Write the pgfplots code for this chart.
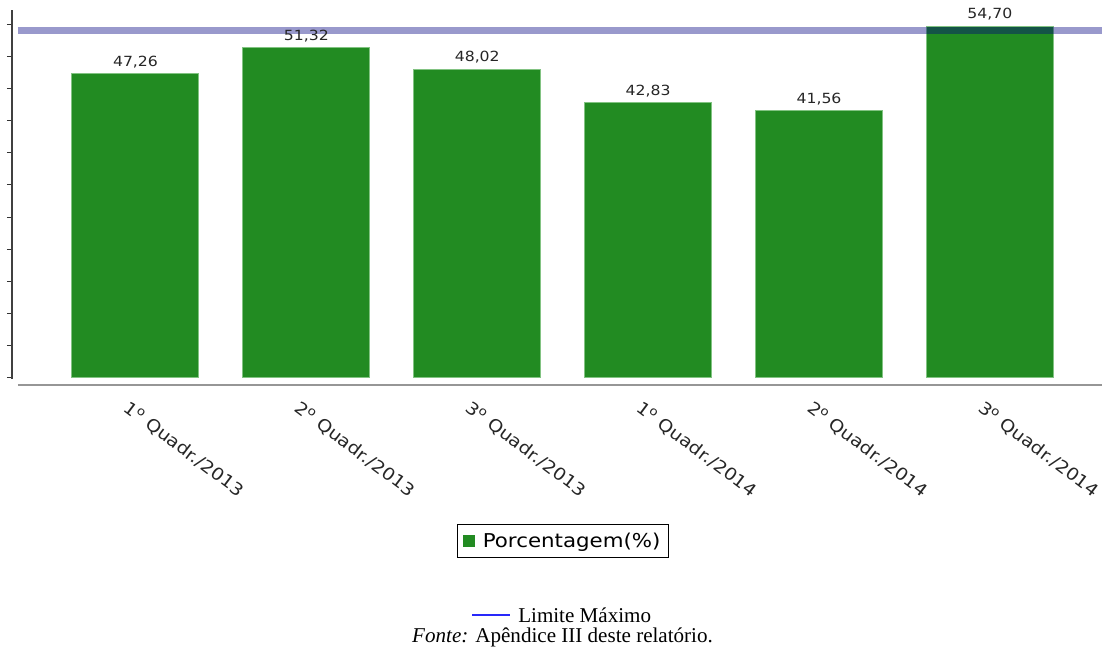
\documentclass[border=0pt]{standalone}
\usepackage{fontspec}
\setmainfont{Liberation Serif}
\newfontfamily\chartfont[FakeStretch=1.12]{DejaVu Sans}
\usepackage{pgfplots}
\pgfplotsset{compat=1.18}
\definecolor{barfill}{RGB}{34,139,34}
\definecolor{baredge}{RGB}{130,195,130}
\definecolor{limitc}{RGB}{0,0,128}
\definecolor{axisgray}{RGB}{150,150,150}
\definecolor{refblue}{RGB}{40,40,250}
\begin{document}
\begin{tikzpicture}
\useasboundingbox (-9pt,-201.75pt) rectangle (817.5pt,288.75pt);
\begin{axis}[
  at={(0pt,0pt)}, anchor=south west,
  scale only axis, width=817.5pt, height=281.25pt,
  xmin=-0.7226, xmax=5.656, ymin=-1.09, ymax=57.2,
  axis line style={draw=none},
  clip=false,
  xtick={-0.03,0.97,1.97,2.97,3.97,4.97},
  xticklabels={1\textsuperscript{o} Quadr./2013,2\textsuperscript{o} Quadr./2013,3\textsuperscript{o} Quadr./2013,1\textsuperscript{o} Quadr./2014,2\textsuperscript{o} Quadr./2014,3\textsuperscript{o} Quadr./2014},
  x tick style={draw=none},
  x tick label style={font=\chartfont\fontsize{12.8}{15}\selectfont, text=black!85, rotate=-37, anchor=north west, inner sep=0pt},
  xticklabel shift=7pt,
  ytick={0,5,...,55}, yticklabels={}, ytick pos=left, tick align=outside,
  major tick length=3.75pt,
  y tick style={line width=0.75pt, color=black!80},
  legend style={at={(0.5055,-0.416)}, anchor=center, draw=black, line width=0.75pt,
    font=\chartfont\fontsize{14.3}{16}\selectfont, inner xsep=4pt, inner ysep=4pt, column sep=4pt},
  legend cell align=left,
  legend image code/.code={\fill[barfill] (0pt,-4.1pt) rectangle (8.25pt,4.1pt);},
]
\addplot[ybar, bar width=0.743, fill=barfill, draw=baredge, line width=0.75pt,
  nodes near coords={\pgfmathprintnumber[fixed,fixed zerofill,precision=2,use comma,assume math mode=true]{\pgfplotspointmeta}},
  every node near coord/.append style={font=\chartfont\fontsize{10.5}{12}\selectfont, text=black!85, inner sep=0pt, yshift=3.8pt}]
  coordinates {(0,47.26) (1,51.32) (2,48.02) (3,42.83) (4,41.56) (5,54.70)};
\addlegendentry{Porcentagem(\%)}
\addplot[forget plot, draw=limitc, draw opacity=0.4, line width=5.25pt, mark=none]
  coordinates {(-0.6875,54) (5.656,54)};
\draw[color=black!75, line width=1.5pt] (axis cs:-0.7226,-0.1) -- (axis cs:-0.7226,57.2);
\draw[axisgray, line width=1.5pt] (axis cs:-0.6875,-1.09) -- (axis cs:5.656,-1.09);
\end{axis}
\draw[refblue, line width=1.5pt] (345pt,-172.5pt) -- (373.5pt,-172.5pt);
\node[anchor=base west, inner sep=0pt, font=\fontsize{15.8}{18}\selectfont] at (379.5pt,-177.75pt) {Limite Máximo};
\node[anchor=base, inner sep=0pt, font=\fontsize{15.8}{18}\selectfont] at (412.9pt,-192.75pt) {\textit{Fonte:} Apêndice III deste relatório.};
\end{tikzpicture}
\end{document}
